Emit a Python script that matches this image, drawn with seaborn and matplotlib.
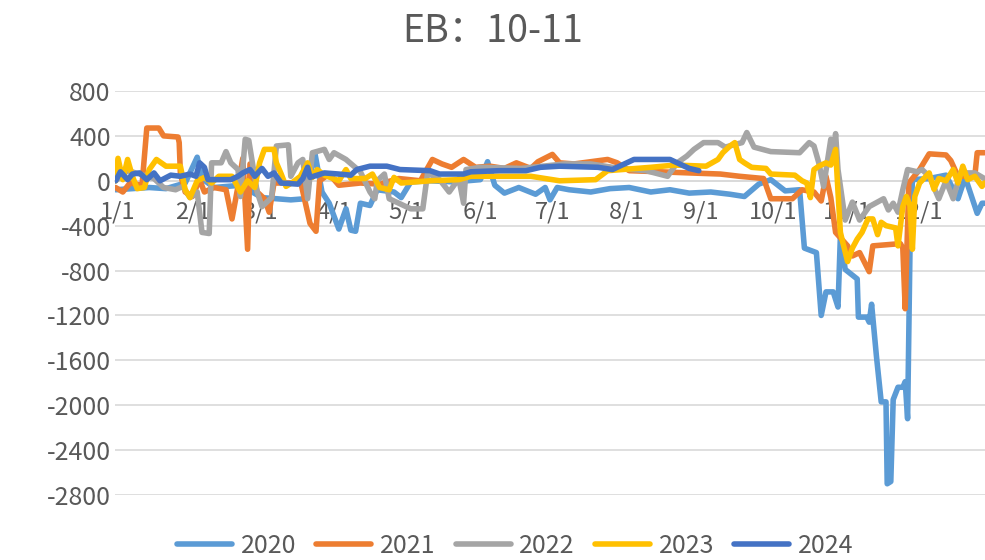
import pandas as pd
import matplotlib
matplotlib.use("Agg")
import matplotlib.pyplot as plt
import seaborn as sns

# --- Data (day of year, spread value) ---
day_2020 = [-1, 13, 20, 28, 33, 35, 40, 51, 60, 72, 78, 82, 85, 88, 92, 95, 97, 99, 101, 105,
            108, 115, 118, 122, 130, 140, 151, 154, 157, 161, 167, 174, 178, 180, 183, 188, 197,
            205, 213, 222, 230, 238, 247, 255, 261, 267, 272, 278, 284, 286, 291, 293, 295, 298,
            300, 301, 303, 308, 308.5, 312, 313, 314, 316, 318, 320, 320.5, 322, 323, 325, 327,
            328, 329, 330, 331, 338, 345, 350, 353, 358, 360, 361]
val_2020 = [-80, -60, -70, -20, 210, 20, -60, -40, -150, -170, -160, 250, -100, -200, -430, -250,
            -440, -450, -200, -220, -80, -100, -150, -10, 0, -10, 10, 170, -40, -110, -60, -120,
            -60, -170, -60, -80, -100, -70, -60, -100, -80, -110, -100, -120, -140, -30, 10, -90,
            -80, -600, -640, -1200, -990, -990, -1125, -490, -790, -875, -1215, -1215, -1260,
            -1100, -1560, -1970, -1970, -2700, -2680, -1950, -1840, -1840, -1790, -2120, -600,
            10, 20, 50, -160, 30, -290, -200, -200]

day_2021 = [-1, 2, 5, 10, 12, 17, 19, 25, 25.5, 26, 28, 31, 34, 36, 40, 45, 47.5, 50, 52, 54,
            55, 58, 61, 63, 65, 72, 76, 80, 82.5, 84, 88, 92, 101, 109, 117, 126, 131, 135, 139,
            144, 149, 155, 161, 166, 172, 175, 181, 184, 190, 197, 204, 208, 213, 226, 238, 251,
            259, 269, 272, 281, 285, 290, 293, 295, 297, 299, 304, 306, 309, 313, 314.5, 326, 327,
            328, 329.5, 334, 338, 345, 347, 350, 357, 358, 361]
val_2021 = [-60, -100, -20, -40, 470, 470, 400, 390, 340, 60, -100, -140, 10, -100, -60, -80,
            -340, -50, 200, -610, 150, -100, -160, -280, -20, -20, 0, -380, -450, 0, 60, -40, -20,
            -30, 20, 0, 190, 150, 120, 190, 120, 130, 110, 160, 110, 170, 235, 160, 150, 170, 190,
            160, 90, 80, 70, 60, 40, 20, -160, -160, -80, -100, -180, 40, -150, -460, -580, -670,
            -640, -810, -580, -560, -600, -1140, -20, 100, 240, 230, 180, 40, 40, 250, 250]

day_2022 = [-1, 4, 9, 15, 19, 24, 27, 30, 33, 35, 38, 39, 43, 45, 47, 50, 51, 53, 54.5, 56, 58,
            60, 64, 66, 71, 72, 75, 77, 79, 81, 86, 88, 90, 95, 101, 105, 107, 108, 111, 113, 117,
            122, 127, 129, 134, 138, 142, 144, 145, 151, 168, 186, 197, 209, 220, 229, 233, 237,
            240, 244, 250, 253, 260, 262, 265, 272, 284, 288, 290, 292, 294, 297, 298, 299, 300,
            303, 306, 309, 313, 319, 321, 323, 325, 327, 329, 333, 335, 338, 342, 345, 348, 351,
            357, 361]
val_2022 = [0, 90, 60, 20, -60, -80, -50, -150, -100, -460, -470, 160, 160, 260, 160, 100, -140,
            370, 360, 160, -100, -230, -150, 310, 320, 40, 160, 190, -160, 250, 280, 190, 250, 190,
            80, -100, -160, 0, 60, -160, -200, -250, -250, 70, 10, -100, 20, -200, 100, 120, 110,
            150, 150, 110, 90, 40, 160, 220, 280, 340, 340, 300, 340, 430, 300, 260, 250, 340, 310,
            160, -50, 370, 200, 420, 100, -350, -190, -350, -230, -160, -260, -200, -280, -80, 100,
            80, 100, 40, -160, 0, -160, 70, 70, 20]

day_2023 = [-1, 0, 2, 4, 6, 8, 11, 13, 16, 20, 26, 28, 30, 33, 36, 39, 42, 47.5, 51, 54, 57, 59,
            61, 65, 66, 68, 70, 73, 76, 79, 81, 83, 86, 92, 95, 97, 103, 106, 109, 113, 115, 118,
            130, 142, 147, 172, 184, 199, 204, 222, 232, 245, 250, 252, 255, 257, 259, 261, 264,
            270, 272, 282, 285, 287, 288.5, 290, 292, 295, 297, 299, 300, 301, 302, 304, 306, 308,
            310, 312.5, 314.5, 316.5, 318, 320, 324, 325, 327, 328.5, 330, 331, 332, 334, 338, 340,
            342, 345, 348, 350, 352, 354, 357, 360, 361]
val_2023 = [0, 200, 10, 190, 40, -70, -60, 100, 190, 130, 130, -80, -150, 0, 30, -20, 40, 40,
            -100, 0, -60, 160, 280, 280, 160, 60, -50, -10, 40, 160, 30, 100, 50, 0, 100, 20, 20,
            60, -60, -80, 30, -20, 0, 10, 40, 40, 0, 10, 90, 120, 140, 130, 190, 250, 310, 340,
            190, 160, 120, 110, 60, 50, 0, -20, -150, 100, 130, 160, 140, 280, -100, -460, -550,
            -720, -600, -520, -460, -340, -340, -480, -370, -400, -420, -580, -230, -140, -220,
            -610, -140, -20, 70, -75, 20, 0, 100, -20, 130, 10, 40, -50, -20]

day_2024 = [-1, 1, 4, 6, 9, 12, 15, 17.5, 22, 26, 30, 32.5, 34, 36, 37.5, 47, 50, 52, 55, 57, 60,
            62.5, 65, 68, 75, 77, 79, 80, 86, 92, 97, 99.5, 105, 112, 117.5, 130, 134, 144, 147,
            159, 170, 176, 184, 200, 206, 211, 215, 230, 234, 238, 242]
val_2024 = [0, 80, 10, 60, 70, 10, 70, 0, 50, 40, 60, 40, 160, 120, 10, 10, 40, 70, 100, 40, 110,
            40, 70, -20, -30, 20, 120, 30, 70, 60, 50, 100, 130, 130, 100, 90, 60, 60, 80, 90, 90,
            120, 130, 120, 100, 150, 190, 190, 150, 110, 90]

years = ["2020", "2021", "2022", "2023", "2024"]
colors = ["#5B9BD5", "#ED7D31", "#A5A5A5", "#FFC000", "#4472C4"]

month_days = [0, 31, 59, 90, 120, 151, 181, 212, 243, 273, 304, 334]
month_labels = ["1/1", "2/1", "3/1", "4/1", "5/1", "6/1", "7/1", "8/1", "9/1", "10/1", "11/1", "12/1"]

frames = []
for yr, d, v in zip(years, [day_2020, day_2021, day_2022, day_2023, day_2024],
                    [val_2020, val_2021, val_2022, val_2023, val_2024]):
    frames.append(pd.DataFrame({"day": d, "value": v, "year": yr}))
df = pd.concat(frames, ignore_index=True)

sns.set_theme(style="white")
plt.rcParams["font.family"] = ["Noto Sans CJK SC", "DejaVu Sans"]
plt.rcParams["axes.unicode_minus"] = False
text_color = "#595959"
grid_color = "#D9D9D9"

fig = plt.figure(figsize=(9.85, 5.6), dpi=100)
ax = fig.add_axes([115 / 985, 65 / 560, 870 / 985, 404 / 560])

sns.lineplot(data=df, x="day", y="value", hue="year", palette=colors, estimator=None,
             linewidth=4.0, ax=ax, legend=False, solid_capstyle="round", solid_joinstyle="round")

ax.set_xlim(-1.25, 361.25)
ax.set_ylim(-2800, 800)
ax.set_yticks(range(-2800, 801, 400))
ax.set_xticks(month_days)
ax.set_xticklabels(month_labels)
ax.yaxis.grid(True, color=grid_color, linewidth=1.2)
ax.set_axisbelow(True)
ax.set_xlabel("")
ax.set_ylabel("")

for s in ["top", "right", "left"]:
    ax.spines[s].set_visible(False)
ax.spines["bottom"].set_position(("data", 0))
ax.spines["bottom"].set_color(grid_color)
ax.spines["bottom"].set_linewidth(1.2)
ax.spines["bottom"].set_zorder(0)

ax.tick_params(axis="x", direction="out", length=5, width=1.2, color=grid_color,
               labelsize=17, labelcolor=text_color, pad=9)
ax.tick_params(axis="y", length=0, labelsize=18, labelcolor=text_color, pad=3)

fig.text(0.5, 1 - 31 / 560, "EB：10-11", ha="center", va="center", fontsize=27, color=text_color)

handles = [plt.Line2D([0], [0], color=c, linewidth=4.0, solid_capstyle="round") for c in colors]
fig.legend(handles, years, loc="center", bbox_to_anchor=(0.523, 0.025), ncol=5, frameon=False,
           fontsize=18, labelcolor=text_color, handlelength=2.2, handletextpad=0.35,
           columnspacing=0.8, borderpad=0)

fig.savefig("out.png", dpi=100)
